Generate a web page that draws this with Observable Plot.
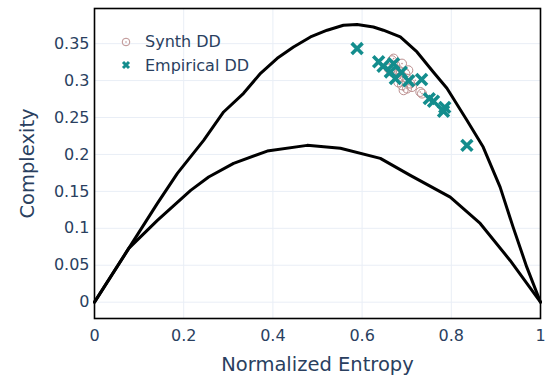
<!DOCTYPE html>
<html>
<head>
<meta charset="utf-8">
<script src="https://cdn.jsdelivr.net/npm/d3@7"></script>
<script src="https://cdn.jsdelivr.net/npm/@observablehq/plot@0.6"></script>
<style>
  html, body { margin: 0; padding: 0; background: #fff; }
  #chart { position: relative; width: 547px; height: 376px; font-family: "DejaVu Sans", Verdana, sans-serif; }
  #legend { position: absolute; left: 118px; top: 30px; color: #2a3f5f; font-size: 16px; line-height: 23.5px; }
  #legend .row { display: flex; align-items: center; height: 23.5px; }
  #legend svg { width: 16px; height: 16px; margin-right: 11px; flex: none; }
</style>
</head>
<body>
<div id="chart"></div>
<script>
// Upper (maximum) complexity boundary: [normalized entropy, complexity]
const maxH = [0, 0.0768, 0.141, 0.1858, 0.2447, 0.2895, 0.3342, 0.3723, 0.4097, 0.4462, 0.4843, 0.5216, 0.5581, 0.5888, 0.6253, 0.6476, 0.6857, 0.7231, 0.7596, 0.7902, 0.835, 0.8715, 0.9095, 0.9386, 0.9693, 1];
const maxC = [0, 0.0728, 0.1337, 0.1744, 0.2191, 0.2575, 0.2828, 0.3099, 0.3302, 0.3455, 0.3591, 0.3682, 0.3749, 0.3759, 0.3726, 0.3682, 0.3591, 0.3388, 0.3117, 0.2896, 0.2462, 0.21, 0.1558, 0.1016, 0.0474, 0];

// Lower (minimum) complexity boundary
const minH = [0, 0.0768, 0.141, 0.2156, 0.2559, 0.3118, 0.3873, 0.4768, 0.5514, 0.6409, 0.7081, 0.7976, 0.8648, 0.9319, 1];
const minC = [0, 0.0728, 0.1107, 0.1514, 0.1694, 0.1879, 0.2046, 0.2123, 0.2083, 0.1947, 0.1717, 0.1423, 0.1066, 0.0565, 0];

// Synthetic degree distributions
const synthH = [0.6671, 0.6707, 0.6595, 0.6671, 0.6819, 0.6745, 0.6895, 0.6783, 0.6969, 0.6857, 0.7007, 0.7081, 0.7193, 0.6895, 0.7007, 0.6931, 0.7119, 0.7305, 0.7343, 0.7036, 0.6812];
const synthC = [0.3275, 0.3298, 0.3163, 0.3117, 0.314, 0.3207, 0.323, 0.3072, 0.3095, 0.3049, 0.3027, 0.2959, 0.3004, 0.2936, 0.2892, 0.2869, 0.2913, 0.2846, 0.2824, 0.314, 0.2976];

// Empirical degree distributions
const empH = [0.5888, 0.6371, 0.647, 0.6707, 0.688, 0.6745, 0.7043, 0.7334, 0.6633, 0.7506, 0.7602, 0.7853, 0.7826, 0.835];
const empC = [0.3434, 0.3255, 0.3194, 0.323, 0.3113, 0.3027, 0.2997, 0.3015, 0.3117, 0.2756, 0.272, 0.2638, 0.2584, 0.2123];

const xTicks = [0, 0.2, 0.4, 0.6, 0.8, 1];
const yTicks = [0, 0.05, 0.1, 0.15, 0.2, 0.25, 0.3, 0.35];

const SYNTH_COLOR = "#bc8f8f";
const EMP_COLOR = "#138d8d";
const TEXT_COLOR = "#2a3f5f";
const GRID_COLOR = "#e9eef6";

const pairs = (hs, cs) => hs.map((h, i) => ({H: h, C: cs[i]}));
const maxCurve = pairs(maxH, maxC);
const minCurve = pairs(minH, minC);
const synth = pairs(synthH, synthC);
const emp = pairs(empH, empC);

const fmt = d => String(+d.toFixed(2));

const chart = Plot.plot({
  width: 547,
  height: 376,
  marginLeft: 94,
  marginRight: 7,
  marginTop: 8,
  marginBottom: 58,
  style: {fontFamily: "'DejaVu Sans', Verdana, sans-serif", fontSize: "16px", color: TEXT_COLOR, background: "#fff"},
  x: {domain: [0, 1], label: null},
  y: {domain: [-0.0221, 0.3976], label: null},
  marks: [
    Plot.gridX(xTicks, {stroke: GRID_COLOR, strokeOpacity: 1, strokeWidth: 1}),
    Plot.gridY(yTicks, {stroke: GRID_COLOR, strokeOpacity: 1, strokeWidth: 1}),
    Plot.axisX(xTicks, {tickSize: 0, tickPadding: 11, tickFormat: fmt, fill: TEXT_COLOR, fontSize: 16,
      label: "Normalized Entropy", labelArrow: "none", labelAnchor: "center", labelOffset: 52}),
    Plot.axisY(yTicks, {tickSize: 0, tickPadding: 5, tickFormat: fmt, fill: TEXT_COLOR, fontSize: 16,
      label: "Complexity", labelArrow: "none", labelAnchor: "center", labelOffset: 74}),
    Plot.line(maxCurve, {x: "H", y: "C", stroke: "#000", strokeWidth: 3}),
    Plot.line(minCurve, {x: "H", y: "C", stroke: "#000", strokeWidth: 3}),
    Plot.dot(synth, {x: "H", y: "C", r: 4.5, stroke: SYNTH_COLOR, strokeWidth: 1, fill: "none"}),
    Plot.dot(synth, {x: "H", y: "C", r: 0.8, fill: SYNTH_COLOR}),
    Plot.dot(emp, {x: "H", y: "C", symbol: "times", r: 5, stroke: EMP_COLOR, strokeWidth: 3.6}),
    Plot.frame({stroke: "#000", strokeWidth: 1.6})
  ]
});

// Axis titles: larger than tick labels, and without direction arrows
chart.querySelectorAll("[aria-label$='axis label']").forEach(g => {
  g.setAttribute("font-size", "19.5");
  g.querySelectorAll("text").forEach(t => {
    t.setAttribute("font-size", "19.5");
    t.textContent = t.textContent.replace(/\s*[←→↑↓]\s*/g, "").trim();
  });
});

const root = document.getElementById("chart");
root.appendChild(chart);

// Legend (inside the plot area, top-left)
const legend = document.createElement("div");
legend.id = "legend";
legend.innerHTML = `
  <div class="row"><svg viewBox="-8 -8 16 16"><circle r="3.8" fill="none" stroke="${SYNTH_COLOR}" stroke-width="1"/><circle r="0.8" fill="${SYNTH_COLOR}"/></svg><span>Synth DD</span></div>
  <div class="row"><svg viewBox="-8 -8 16 16"><path d="M-3,-3L3,3M3,-3L-3,3" stroke="${EMP_COLOR}" stroke-width="3"/></svg><span>Empirical DD</span></div>`;
root.appendChild(legend);
</script>
</body>
</html>
